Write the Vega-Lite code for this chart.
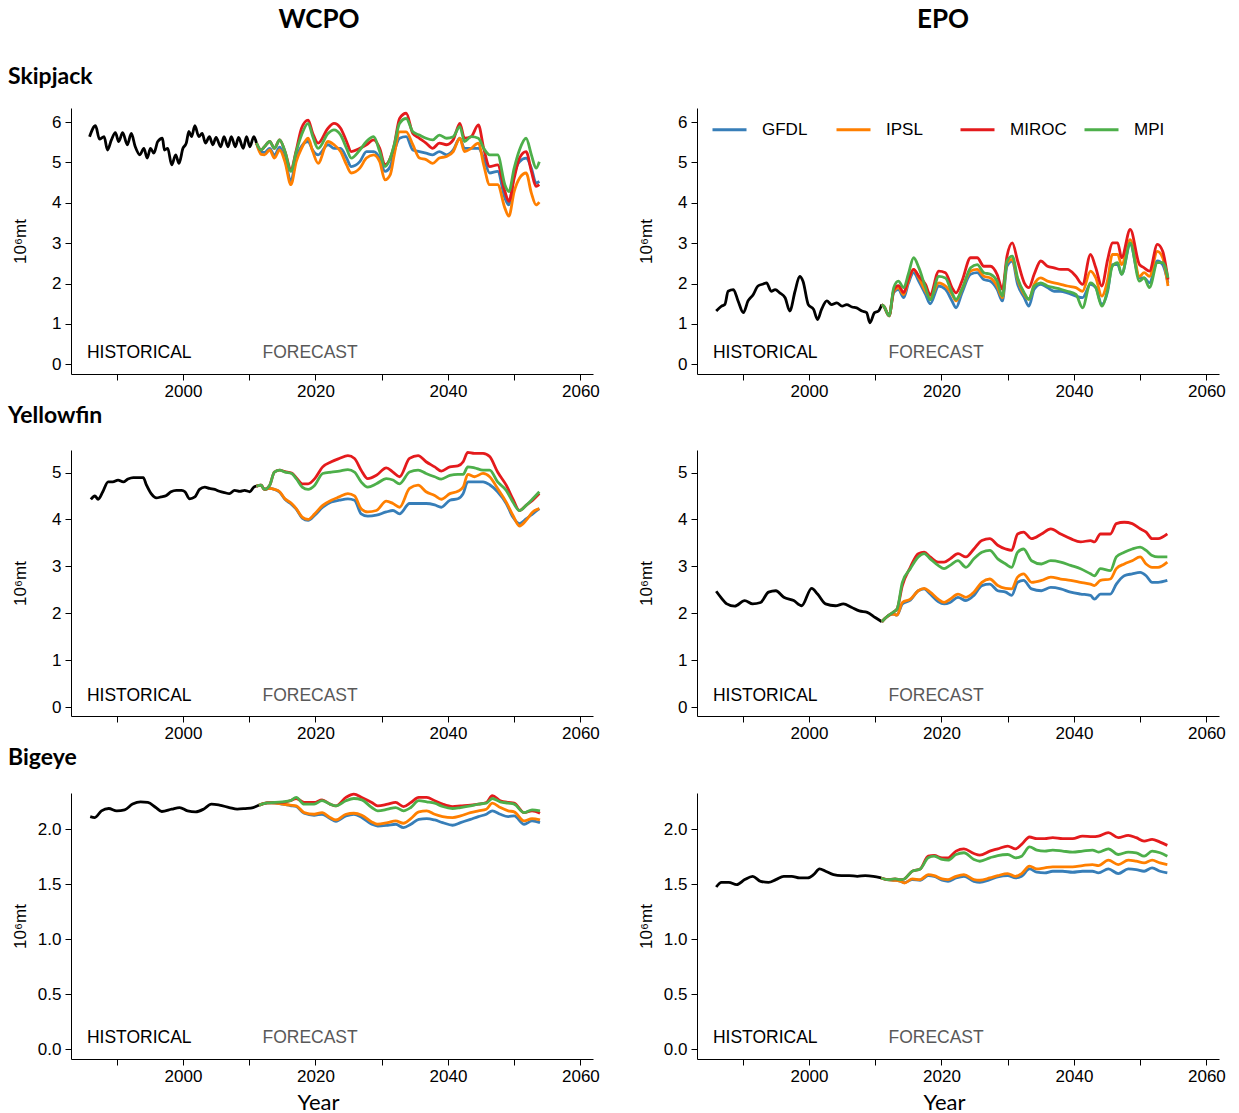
{
  "$schema": "https://vega.github.io/schema/vega-lite/v6.json",
  "background": "white",
  "padding": {"left": 8, "top": 0, "right": 5, "bottom": 2},
  "config": {
    "view": {"stroke": null},
    "font": "Liberation Sans",
    "axis": {"grid": false, "domainColor": "black", "domainWidth": 1, "tickColor": "black", "tickSize": 6, "labelColor": "black", "labelFont": "Liberation Sans", "labelFontSize": 17, "labelPadding": 3, "titleFont": "Liberation Sans", "titleFontWeight": "normal", "titleFontSize": 17, "titleColor": "black"},
    "axisY": {"minExtent": 30, "maxExtent": 30, "titlePadding": 12, "labelPadding": 4},
    "axisX": {"labelFlush": false, "titleFont": "Lato", "titleFontSize": 22, "titlePadding": 8, "titleX": 247},
    "title": {"anchor": "start", "font": "Lato", "fontSize": 23, "fontWeight": "bold", "color": "black", "offset": 19, "dx": -3},
    "line": {"strokeWidth": 2.8, "interpolate": "monotone"},
    "text": {"font": "Liberation Sans", "fontSize": 17.5, "align": "left", "baseline": "middle"}
  },
  "datasets": {
    "wcpo_skj": [
      {"model":"Historical","year":1985.9,"mt":5.64},{"model":"Historical","year":1986.8,"mt":5.91},{"model":"Historical","year":1987.4,"mt":5.58},{"model":"Historical","year":1988.1,"mt":5.64},{"model":"Historical","year":1988.6,"mt":5.31},{"model":"Historical","year":1989.2,"mt":5.56},{"model":"Historical","year":1989.8,"mt":5.74},{"model":"Historical","year":1990.3,"mt":5.52},{"model":"Historical","year":1990.9,"mt":5.74},{"model":"Historical","year":1991.6,"mt":5.44},{"model":"Historical","year":1992.2,"mt":5.72},{"model":"Historical","year":1992.8,"mt":5.39},{"model":"Historical","year":1993.5,"mt":5.19},{"model":"Historical","year":1994.1,"mt":5.35},{"model":"Historical","year":1994.6,"mt":5.11},{"model":"Historical","year":1995.1,"mt":5.35},{"model":"Historical","year":1995.6,"mt":5.23},{"model":"Historical","year":1996.2,"mt":5.52},{"model":"Historical","year":1996.9,"mt":5.6},{"model":"Historical","year":1997.2,"mt":5.31},{"model":"Historical","year":1997.7,"mt":5.35},{"model":"Historical","year":1998.3,"mt":4.94},{"model":"Historical","year":1998.9,"mt":5.19},{"model":"Historical","year":1999.4,"mt":4.98},{"model":"Historical","year":2000.0,"mt":5.35},{"model":"Historical","year":2000.5,"mt":5.48},{"model":"Historical","year":2000.9,"mt":5.77},{"model":"Historical","year":2001.3,"mt":5.64},{"model":"Historical","year":2001.8,"mt":5.91},{"model":"Historical","year":2002.4,"mt":5.64},{"model":"Historical","year":2002.9,"mt":5.72},{"model":"Historical","year":2003.4,"mt":5.48},{"model":"Historical","year":2004.0,"mt":5.64},{"model":"Historical","year":2004.5,"mt":5.44},{"model":"Historical","year":2005.0,"mt":5.62},{"model":"Historical","year":2005.7,"mt":5.39},{"model":"Historical","year":2006.2,"mt":5.64},{"model":"Historical","year":2006.8,"mt":5.39},{"model":"Historical","year":2007.3,"mt":5.64},{"model":"Historical","year":2007.9,"mt":5.39},{"model":"Historical","year":2008.4,"mt":5.62},{"model":"Historical","year":2009.1,"mt":5.35},{"model":"Historical","year":2009.6,"mt":5.64},{"model":"Historical","year":2010.1,"mt":5.39},{"model":"Historical","year":2010.7,"mt":5.64},{"model":"Historical","year":2011.1,"mt":5.48},
      {"model":"GFDL","year":2011.1,"mt":5.48},{"model":"GFDL","year":2011.8,"mt":5.25},{"model":"GFDL","year":2012.3,"mt":5.25},{"model":"GFDL","year":2013.1,"mt":5.35},{"model":"GFDL","year":2013.8,"mt":5.18},{"model":"GFDL","year":2014.6,"mt":5.38},{"model":"GFDL","year":2015.4,"mt":5.08},{"model":"GFDL","year":2016.3,"mt":4.55},{"model":"GFDL","year":2017.1,"mt":5.1},{"model":"GFDL","year":2017.9,"mt":5.4},{"model":"GFDL","year":2018.9,"mt":5.52},{"model":"GFDL","year":2019.6,"mt":5.3},{"model":"GFDL","year":2020.4,"mt":5.19},{"model":"GFDL","year":2021.9,"mt":5.44},{"model":"GFDL","year":2022.8,"mt":5.35},{"model":"GFDL","year":2023.8,"mt":5.35},{"model":"GFDL","year":2024.7,"mt":5.11},{"model":"GFDL","year":2025.4,"mt":4.9},{"model":"GFDL","year":2026.7,"mt":5.02},{"model":"GFDL","year":2027.7,"mt":5.27},{"model":"GFDL","year":2028.8,"mt":5.27},{"model":"GFDL","year":2029.7,"mt":5.11},{"model":"GFDL","year":2030.5,"mt":4.78},{"model":"GFDL","year":2031.3,"mt":4.9},{"model":"GFDL","year":2031.9,"mt":5.27},{"model":"GFDL","year":2032.7,"mt":5.6},{"model":"GFDL","year":2033.7,"mt":5.64},{"model":"GFDL","year":2034.7,"mt":5.31},{"model":"GFDL","year":2035.7,"mt":5.27},{"model":"GFDL","year":2036.7,"mt":5.23},{"model":"GFDL","year":2037.7,"mt":5.19},{"model":"GFDL","year":2038.7,"mt":5.27},{"model":"GFDL","year":2039.8,"mt":5.19},{"model":"GFDL","year":2040.8,"mt":5.31},{"model":"GFDL","year":2041.8,"mt":5.6},{"model":"GFDL","year":2042.5,"mt":5.35},{"model":"GFDL","year":2043.5,"mt":5.35},{"model":"GFDL","year":2044.6,"mt":5.35},{"model":"GFDL","year":2045.4,"mt":5.11},{"model":"GFDL","year":2046.3,"mt":4.74},{"model":"GFDL","year":2047.5,"mt":4.78},{"model":"GFDL","year":2048.6,"mt":4.12},{"model":"GFDL","year":2049.2,"mt":3.95},{"model":"GFDL","year":2050.0,"mt":4.7},{"model":"GFDL","year":2050.8,"mt":5.02},{"model":"GFDL","year":2051.8,"mt":5.11},{"model":"GFDL","year":2052.6,"mt":4.86},{"model":"GFDL","year":2053.3,"mt":4.49},{"model":"GFDL","year":2053.8,"mt":4.53},
      {"model":"IPSL","year":2011.1,"mt":5.48},{"model":"IPSL","year":2011.8,"mt":5.2},{"model":"IPSL","year":2012.3,"mt":5.19},{"model":"IPSL","year":2013.1,"mt":5.31},{"model":"IPSL","year":2013.8,"mt":5.11},{"model":"IPSL","year":2014.6,"mt":5.31},{"model":"IPSL","year":2015.4,"mt":5.02},{"model":"IPSL","year":2016.3,"mt":4.45},{"model":"IPSL","year":2017.1,"mt":5.02},{"model":"IPSL","year":2017.9,"mt":5.35},{"model":"IPSL","year":2018.9,"mt":5.6},{"model":"IPSL","year":2019.6,"mt":5.27},{"model":"IPSL","year":2020.4,"mt":4.98},{"model":"IPSL","year":2021.9,"mt":5.52},{"model":"IPSL","year":2022.8,"mt":5.44},{"model":"IPSL","year":2023.8,"mt":5.27},{"model":"IPSL","year":2024.7,"mt":4.94},{"model":"IPSL","year":2025.4,"mt":4.74},{"model":"IPSL","year":2026.7,"mt":4.86},{"model":"IPSL","year":2027.7,"mt":5.11},{"model":"IPSL","year":2028.8,"mt":5.19},{"model":"IPSL","year":2029.7,"mt":5.02},{"model":"IPSL","year":2030.5,"mt":4.57},{"model":"IPSL","year":2031.3,"mt":4.7},{"model":"IPSL","year":2031.9,"mt":5.19},{"model":"IPSL","year":2032.7,"mt":5.76},{"model":"IPSL","year":2033.7,"mt":5.76},{"model":"IPSL","year":2034.7,"mt":5.44},{"model":"IPSL","year":2035.7,"mt":5.11},{"model":"IPSL","year":2036.7,"mt":5.07},{"model":"IPSL","year":2037.7,"mt":4.98},{"model":"IPSL","year":2038.7,"mt":5.11},{"model":"IPSL","year":2039.8,"mt":5.15},{"model":"IPSL","year":2040.8,"mt":5.27},{"model":"IPSL","year":2041.8,"mt":5.6},{"model":"IPSL","year":2042.5,"mt":5.27},{"model":"IPSL","year":2043.5,"mt":5.35},{"model":"IPSL","year":2044.6,"mt":5.48},{"model":"IPSL","year":2045.4,"mt":4.94},{"model":"IPSL","year":2046.3,"mt":4.45},{"model":"IPSL","year":2047.5,"mt":4.45},{"model":"IPSL","year":2048.6,"mt":3.87},{"model":"IPSL","year":2049.2,"mt":3.67},{"model":"IPSL","year":2050.0,"mt":4.28},{"model":"IPSL","year":2050.8,"mt":4.61},{"model":"IPSL","year":2051.8,"mt":4.74},{"model":"IPSL","year":2052.6,"mt":4.24},{"model":"IPSL","year":2053.3,"mt":3.95},{"model":"IPSL","year":2053.8,"mt":4.02},
      {"model":"MIROC","year":2011.1,"mt":5.48},{"model":"MIROC","year":2011.8,"mt":5.31},{"model":"MIROC","year":2012.3,"mt":5.39},{"model":"MIROC","year":2013.1,"mt":5.52},{"model":"MIROC","year":2013.8,"mt":5.35},{"model":"MIROC","year":2014.6,"mt":5.56},{"model":"MIROC","year":2015.4,"mt":5.27},{"model":"MIROC","year":2016.3,"mt":4.83},{"model":"MIROC","year":2017.1,"mt":5.3},{"model":"MIROC","year":2017.9,"mt":5.85},{"model":"MIROC","year":2018.9,"mt":6.05},{"model":"MIROC","year":2019.6,"mt":5.72},{"model":"MIROC","year":2020.4,"mt":5.48},{"model":"MIROC","year":2021.9,"mt":5.85},{"model":"MIROC","year":2022.8,"mt":5.97},{"model":"MIROC","year":2023.8,"mt":5.85},{"model":"MIROC","year":2024.7,"mt":5.52},{"model":"MIROC","year":2025.4,"mt":5.27},{"model":"MIROC","year":2026.7,"mt":5.35},{"model":"MIROC","year":2027.7,"mt":5.44},{"model":"MIROC","year":2028.8,"mt":5.56},{"model":"MIROC","year":2029.7,"mt":5.35},{"model":"MIROC","year":2030.5,"mt":4.94},{"model":"MIROC","year":2031.3,"mt":5.11},{"model":"MIROC","year":2031.9,"mt":5.44},{"model":"MIROC","year":2032.7,"mt":6.09},{"model":"MIROC","year":2033.7,"mt":6.22},{"model":"MIROC","year":2034.7,"mt":5.72},{"model":"MIROC","year":2035.7,"mt":5.6},{"model":"MIROC","year":2036.7,"mt":5.48},{"model":"MIROC","year":2037.7,"mt":5.35},{"model":"MIROC","year":2038.7,"mt":5.48},{"model":"MIROC","year":2039.8,"mt":5.44},{"model":"MIROC","year":2040.8,"mt":5.56},{"model":"MIROC","year":2041.8,"mt":5.97},{"model":"MIROC","year":2042.5,"mt":5.6},{"model":"MIROC","year":2043.5,"mt":5.64},{"model":"MIROC","year":2044.6,"mt":5.93},{"model":"MIROC","year":2045.4,"mt":5.35},{"model":"MIROC","year":2046.3,"mt":4.9},{"model":"MIROC","year":2047.5,"mt":4.94},{"model":"MIROC","year":2048.6,"mt":4.28},{"model":"MIROC","year":2049.2,"mt":4.04},{"model":"MIROC","year":2050.0,"mt":4.61},{"model":"MIROC","year":2050.8,"mt":5.11},{"model":"MIROC","year":2051.8,"mt":5.27},{"model":"MIROC","year":2052.6,"mt":4.78},{"model":"MIROC","year":2053.3,"mt":4.41},{"model":"MIROC","year":2053.8,"mt":4.45},
      {"model":"MPI","year":2011.1,"mt":5.48},{"model":"MPI","year":2011.8,"mt":5.31},{"model":"MPI","year":2012.3,"mt":5.39},{"model":"MPI","year":2013.1,"mt":5.52},{"model":"MPI","year":2013.8,"mt":5.35},{"model":"MPI","year":2014.6,"mt":5.56},{"model":"MPI","year":2015.4,"mt":5.27},{"model":"MPI","year":2016.3,"mt":4.78},{"model":"MPI","year":2017.1,"mt":5.27},{"model":"MPI","year":2017.9,"mt":5.68},{"model":"MPI","year":2018.9,"mt":5.97},{"model":"MPI","year":2019.6,"mt":5.64},{"model":"MPI","year":2020.4,"mt":5.35},{"model":"MPI","year":2021.9,"mt":5.72},{"model":"MPI","year":2022.8,"mt":5.81},{"model":"MPI","year":2023.8,"mt":5.68},{"model":"MPI","year":2024.7,"mt":5.35},{"model":"MPI","year":2025.4,"mt":5.11},{"model":"MPI","year":2026.7,"mt":5.31},{"model":"MPI","year":2027.7,"mt":5.52},{"model":"MPI","year":2028.8,"mt":5.64},{"model":"MPI","year":2029.7,"mt":5.27},{"model":"MPI","year":2030.5,"mt":4.9},{"model":"MPI","year":2031.3,"mt":5.11},{"model":"MPI","year":2031.9,"mt":5.44},{"model":"MPI","year":2032.7,"mt":5.97},{"model":"MPI","year":2033.7,"mt":6.09},{"model":"MPI","year":2034.7,"mt":5.76},{"model":"MPI","year":2035.7,"mt":5.68},{"model":"MPI","year":2036.7,"mt":5.6},{"model":"MPI","year":2037.7,"mt":5.56},{"model":"MPI","year":2038.7,"mt":5.68},{"model":"MPI","year":2039.8,"mt":5.6},{"model":"MPI","year":2040.8,"mt":5.64},{"model":"MPI","year":2041.8,"mt":5.89},{"model":"MPI","year":2042.5,"mt":5.52},{"model":"MPI","year":2043.5,"mt":5.64},{"model":"MPI","year":2044.6,"mt":5.6},{"model":"MPI","year":2045.4,"mt":5.35},{"model":"MPI","year":2046.3,"mt":5.19},{"model":"MPI","year":2047.5,"mt":5.19},{"model":"MPI","year":2048.6,"mt":4.45},{"model":"MPI","year":2049.2,"mt":4.28},{"model":"MPI","year":2050.0,"mt":4.86},{"model":"MPI","year":2050.8,"mt":5.31},{"model":"MPI","year":2051.8,"mt":5.6},{"model":"MPI","year":2052.6,"mt":5.19},{"model":"MPI","year":2053.3,"mt":4.86},{"model":"MPI","year":2053.8,"mt":5.02}
    ],
    "epo_skj": [
      {"model":"Historical","year":1986.0,"mt":1.32},{"model":"Historical","year":1986.8,"mt":1.44},{"model":"Historical","year":1987.3,"mt":1.48},{"model":"Historical","year":1987.8,"mt":1.81},{"model":"Historical","year":1988.6,"mt":1.85},{"model":"Historical","year":1989.3,"mt":1.57},{"model":"Historical","year":1990.1,"mt":1.28},{"model":"Historical","year":1990.8,"mt":1.57},{"model":"Historical","year":1991.6,"mt":1.73},{"model":"Historical","year":1992.3,"mt":1.94},{"model":"Historical","year":1993.1,"mt":1.99},{"model":"Historical","year":1993.6,"mt":2.02},{"model":"Historical","year":1994.3,"mt":1.81},{"model":"Historical","year":1994.9,"mt":1.85},{"model":"Historical","year":1995.6,"mt":1.77},{"model":"Historical","year":1996.4,"mt":1.65},{"model":"Historical","year":1997.1,"mt":1.32},{"model":"Historical","year":1997.9,"mt":1.81},{"model":"Historical","year":1998.6,"mt":2.18},{"model":"Historical","year":1999.1,"mt":2.06},{"model":"Historical","year":1999.9,"mt":1.48},{"model":"Historical","year":2000.7,"mt":1.36},{"model":"Historical","year":2001.3,"mt":1.11},{"model":"Historical","year":2001.9,"mt":1.36},{"model":"Historical","year":2002.7,"mt":1.57},{"model":"Historical","year":2003.4,"mt":1.48},{"model":"Historical","year":2004.2,"mt":1.52},{"model":"Historical","year":2005.0,"mt":1.44},{"model":"Historical","year":2005.7,"mt":1.48},{"model":"Historical","year":2006.5,"mt":1.42},{"model":"Historical","year":2007.2,"mt":1.4},{"model":"Historical","year":2008.0,"mt":1.32},{"model":"Historical","year":2008.7,"mt":1.28},{"model":"Historical","year":2009.2,"mt":1.03},{"model":"Historical","year":2009.9,"mt":1.28},{"model":"Historical","year":2010.5,"mt":1.32},{"model":"Historical","year":2011.0,"mt":1.48},
      {"model":"GFDL","year":2011.0,"mt":1.48},{"model":"GFDL","year":2011.3,"mt":1.44},{"model":"GFDL","year":2012.1,"mt":1.2},{"model":"GFDL","year":2012.8,"mt":1.78},{"model":"GFDL","year":2013.5,"mt":1.86},{"model":"GFDL","year":2014.3,"mt":1.65},{"model":"GFDL","year":2015.0,"mt":2.0},{"model":"GFDL","year":2015.8,"mt":2.27},{"model":"GFDL","year":2016.6,"mt":2.05},{"model":"GFDL","year":2017.6,"mt":1.73},{"model":"GFDL","year":2018.3,"mt":1.5},{"model":"GFDL","year":2019.6,"mt":1.94},{"model":"GFDL","year":2020.6,"mt":1.86},{"model":"GFDL","year":2021.6,"mt":1.57},{"model":"GFDL","year":2022.2,"mt":1.4},{"model":"GFDL","year":2023.1,"mt":1.77},{"model":"GFDL","year":2024.4,"mt":2.23},{"model":"GFDL","year":2025.4,"mt":2.27},{"model":"GFDL","year":2026.4,"mt":2.1},{"model":"GFDL","year":2027.4,"mt":2.06},{"model":"GFDL","year":2028.4,"mt":1.86},{"model":"GFDL","year":2029.2,"mt":1.57},{"model":"GFDL","year":2029.9,"mt":2.43},{"model":"GFDL","year":2030.7,"mt":2.56},{"model":"GFDL","year":2031.5,"mt":1.98},{"model":"GFDL","year":2032.5,"mt":1.65},{"model":"GFDL","year":2033.2,"mt":1.44},{"model":"GFDL","year":2034.0,"mt":1.86},{"model":"GFDL","year":2035.0,"mt":1.98},{"model":"GFDL","year":2036.0,"mt":1.9},{"model":"GFDL","year":2037.0,"mt":1.81},{"model":"GFDL","year":2038.0,"mt":1.81},{"model":"GFDL","year":2039.0,"mt":1.77},{"model":"GFDL","year":2040.3,"mt":1.69},{"model":"GFDL","year":2041.3,"mt":1.65},{"model":"GFDL","year":2042.5,"mt":1.98},{"model":"GFDL","year":2043.3,"mt":1.9},{"model":"GFDL","year":2044.2,"mt":1.48},{"model":"GFDL","year":2045.1,"mt":1.81},{"model":"GFDL","year":2045.8,"mt":2.47},{"model":"GFDL","year":2046.6,"mt":2.47},{"model":"GFDL","year":2047.2,"mt":2.23},{"model":"GFDL","year":2048.5,"mt":2.97},{"model":"GFDL","year":2049.9,"mt":2.14},{"model":"GFDL","year":2050.6,"mt":2.14},{"model":"GFDL","year":2051.4,"mt":2.02},{"model":"GFDL","year":2052.6,"mt":2.56},{"model":"GFDL","year":2053.4,"mt":2.47},{"model":"GFDL","year":2054.2,"mt":2.02},
      {"model":"IPSL","year":2011.0,"mt":1.48},{"model":"IPSL","year":2011.3,"mt":1.44},{"model":"IPSL","year":2012.1,"mt":1.2},{"model":"IPSL","year":2012.8,"mt":1.81},{"model":"IPSL","year":2013.5,"mt":1.9},{"model":"IPSL","year":2014.3,"mt":1.73},{"model":"IPSL","year":2015.0,"mt":2.06},{"model":"IPSL","year":2015.8,"mt":2.35},{"model":"IPSL","year":2016.6,"mt":2.14},{"model":"IPSL","year":2017.6,"mt":1.81},{"model":"IPSL","year":2018.3,"mt":1.65},{"model":"IPSL","year":2019.6,"mt":2.02},{"model":"IPSL","year":2020.6,"mt":1.94},{"model":"IPSL","year":2021.6,"mt":1.73},{"model":"IPSL","year":2022.2,"mt":1.57},{"model":"IPSL","year":2023.1,"mt":1.86},{"model":"IPSL","year":2024.4,"mt":2.31},{"model":"IPSL","year":2025.4,"mt":2.35},{"model":"IPSL","year":2026.4,"mt":2.18},{"model":"IPSL","year":2027.4,"mt":2.14},{"model":"IPSL","year":2028.4,"mt":1.94},{"model":"IPSL","year":2029.2,"mt":1.65},{"model":"IPSL","year":2029.9,"mt":2.52},{"model":"IPSL","year":2030.7,"mt":2.6},{"model":"IPSL","year":2031.5,"mt":2.1},{"model":"IPSL","year":2032.5,"mt":1.73},{"model":"IPSL","year":2033.2,"mt":1.61},{"model":"IPSL","year":2034.0,"mt":1.98},{"model":"IPSL","year":2035.0,"mt":2.14},{"model":"IPSL","year":2036.0,"mt":2.06},{"model":"IPSL","year":2037.0,"mt":2.02},{"model":"IPSL","year":2038.0,"mt":1.98},{"model":"IPSL","year":2039.0,"mt":1.94},{"model":"IPSL","year":2040.3,"mt":1.9},{"model":"IPSL","year":2041.3,"mt":1.81},{"model":"IPSL","year":2042.5,"mt":2.31},{"model":"IPSL","year":2043.3,"mt":2.14},{"model":"IPSL","year":2044.2,"mt":1.69},{"model":"IPSL","year":2045.1,"mt":2.1},{"model":"IPSL","year":2045.8,"mt":2.72},{"model":"IPSL","year":2046.6,"mt":2.72},{"model":"IPSL","year":2047.2,"mt":2.47},{"model":"IPSL","year":2048.5,"mt":3.09},{"model":"IPSL","year":2049.9,"mt":2.18},{"model":"IPSL","year":2050.6,"mt":2.27},{"model":"IPSL","year":2051.4,"mt":2.18},{"model":"IPSL","year":2052.6,"mt":2.8},{"model":"IPSL","year":2053.4,"mt":2.64},{"model":"IPSL","year":2054.2,"mt":1.94},
      {"model":"MIROC","year":2011.0,"mt":1.48},{"model":"MIROC","year":2011.3,"mt":1.44},{"model":"MIROC","year":2012.1,"mt":1.2},{"model":"MIROC","year":2012.8,"mt":1.84},{"model":"MIROC","year":2013.5,"mt":1.95},{"model":"MIROC","year":2014.3,"mt":1.78},{"model":"MIROC","year":2015.0,"mt":2.1},{"model":"MIROC","year":2015.8,"mt":2.35},{"model":"MIROC","year":2016.6,"mt":2.18},{"model":"MIROC","year":2017.6,"mt":1.98},{"model":"MIROC","year":2018.3,"mt":1.72},{"model":"MIROC","year":2019.6,"mt":2.31},{"model":"MIROC","year":2020.6,"mt":2.27},{"model":"MIROC","year":2021.6,"mt":1.9},{"model":"MIROC","year":2022.2,"mt":1.77},{"model":"MIROC","year":2023.1,"mt":2.06},{"model":"MIROC","year":2024.4,"mt":2.64},{"model":"MIROC","year":2025.4,"mt":2.64},{"model":"MIROC","year":2026.4,"mt":2.43},{"model":"MIROC","year":2027.4,"mt":2.43},{"model":"MIROC","year":2028.4,"mt":2.23},{"model":"MIROC","year":2029.2,"mt":1.86},{"model":"MIROC","year":2029.9,"mt":2.68},{"model":"MIROC","year":2030.7,"mt":3.01},{"model":"MIROC","year":2031.5,"mt":2.56},{"model":"MIROC","year":2032.5,"mt":2.02},{"model":"MIROC","year":2033.2,"mt":1.9},{"model":"MIROC","year":2034.0,"mt":2.23},{"model":"MIROC","year":2035.0,"mt":2.56},{"model":"MIROC","year":2036.0,"mt":2.43},{"model":"MIROC","year":2037.0,"mt":2.39},{"model":"MIROC","year":2038.0,"mt":2.35},{"model":"MIROC","year":2039.0,"mt":2.35},{"model":"MIROC","year":2040.3,"mt":2.18},{"model":"MIROC","year":2041.3,"mt":1.98},{"model":"MIROC","year":2042.5,"mt":2.72},{"model":"MIROC","year":2043.3,"mt":2.39},{"model":"MIROC","year":2044.2,"mt":1.94},{"model":"MIROC","year":2045.1,"mt":2.6},{"model":"MIROC","year":2045.8,"mt":3.01},{"model":"MIROC","year":2046.6,"mt":3.01},{"model":"MIROC","year":2047.2,"mt":2.64},{"model":"MIROC","year":2048.5,"mt":3.34},{"model":"MIROC","year":2049.9,"mt":2.47},{"model":"MIROC","year":2050.6,"mt":2.39},{"model":"MIROC","year":2051.4,"mt":2.31},{"model":"MIROC","year":2052.6,"mt":2.97},{"model":"MIROC","year":2053.4,"mt":2.8},{"model":"MIROC","year":2054.2,"mt":2.1},
      {"model":"MPI","year":2011.0,"mt":1.48},{"model":"MPI","year":2011.3,"mt":1.44},{"model":"MPI","year":2012.1,"mt":1.2},{"model":"MPI","year":2012.8,"mt":1.9},{"model":"MPI","year":2013.5,"mt":2.06},{"model":"MPI","year":2014.3,"mt":1.9},{"model":"MPI","year":2015.0,"mt":2.23},{"model":"MPI","year":2015.8,"mt":2.64},{"model":"MPI","year":2016.6,"mt":2.39},{"model":"MPI","year":2017.6,"mt":1.9},{"model":"MPI","year":2018.3,"mt":1.6},{"model":"MPI","year":2019.6,"mt":2.18},{"model":"MPI","year":2020.6,"mt":2.14},{"model":"MPI","year":2021.6,"mt":1.77},{"model":"MPI","year":2022.2,"mt":1.61},{"model":"MPI","year":2023.1,"mt":1.86},{"model":"MPI","year":2024.4,"mt":2.39},{"model":"MPI","year":2025.4,"mt":2.47},{"model":"MPI","year":2026.4,"mt":2.27},{"model":"MPI","year":2027.4,"mt":2.23},{"model":"MPI","year":2028.4,"mt":2.06},{"model":"MPI","year":2029.2,"mt":1.69},{"model":"MPI","year":2029.9,"mt":2.56},{"model":"MPI","year":2030.7,"mt":2.68},{"model":"MPI","year":2031.5,"mt":2.14},{"model":"MPI","year":2032.5,"mt":1.77},{"model":"MPI","year":2033.2,"mt":1.61},{"model":"MPI","year":2034.0,"mt":1.94},{"model":"MPI","year":2035.0,"mt":2.02},{"model":"MPI","year":2036.0,"mt":1.94},{"model":"MPI","year":2037.0,"mt":1.9},{"model":"MPI","year":2038.0,"mt":1.86},{"model":"MPI","year":2039.0,"mt":1.81},{"model":"MPI","year":2040.3,"mt":1.73},{"model":"MPI","year":2041.3,"mt":1.4},{"model":"MPI","year":2042.5,"mt":2.02},{"model":"MPI","year":2043.3,"mt":1.9},{"model":"MPI","year":2044.2,"mt":1.44},{"model":"MPI","year":2045.1,"mt":1.86},{"model":"MPI","year":2045.8,"mt":2.43},{"model":"MPI","year":2046.6,"mt":2.52},{"model":"MPI","year":2047.2,"mt":2.23},{"model":"MPI","year":2048.5,"mt":3.01},{"model":"MPI","year":2049.9,"mt":2.06},{"model":"MPI","year":2050.6,"mt":2.14},{"model":"MPI","year":2051.4,"mt":1.9},{"model":"MPI","year":2052.6,"mt":2.52},{"model":"MPI","year":2053.4,"mt":2.52},{"model":"MPI","year":2054.2,"mt":2.14}
    ],
    "wcpo_yft": [
      {"model":"Historical","year":1986.1,"mt":4.43},{"model":"Historical","year":1986.7,"mt":4.5},{"model":"Historical","year":1987.2,"mt":4.43},{"model":"Historical","year":1987.9,"mt":4.59},{"model":"Historical","year":1988.7,"mt":4.8},{"model":"Historical","year":1989.4,"mt":4.8},{"model":"Historical","year":1990.2,"mt":4.84},{"model":"Historical","year":1991.0,"mt":4.8},{"model":"Historical","year":1991.7,"mt":4.86},{"model":"Historical","year":1992.5,"mt":4.89},{"model":"Historical","year":1993.2,"mt":4.89},{"model":"Historical","year":1994.0,"mt":4.89},{"model":"Historical","year":1994.5,"mt":4.73},{"model":"Historical","year":1995.2,"mt":4.55},{"model":"Historical","year":1996.0,"mt":4.46},{"model":"Historical","year":1996.7,"mt":4.48},{"model":"Historical","year":1997.5,"mt":4.51},{"model":"Historical","year":1998.2,"mt":4.59},{"model":"Historical","year":1999.0,"mt":4.62},{"model":"Historical","year":1999.8,"mt":4.62},{"model":"Historical","year":2000.3,"mt":4.59},{"model":"Historical","year":2001.0,"mt":4.44},{"model":"Historical","year":2001.8,"mt":4.48},{"model":"Historical","year":2002.5,"mt":4.64},{"model":"Historical","year":2003.3,"mt":4.69},{"model":"Historical","year":2004.0,"mt":4.66},{"model":"Historical","year":2004.8,"mt":4.64},{"model":"Historical","year":2005.5,"mt":4.6},{"model":"Historical","year":2006.3,"mt":4.57},{"model":"Historical","year":2007.0,"mt":4.55},{"model":"Historical","year":2007.8,"mt":4.62},{"model":"Historical","year":2008.6,"mt":4.6},{"model":"Historical","year":2009.3,"mt":4.62},{"model":"Historical","year":2010.1,"mt":4.59},{"model":"Historical","year":2010.7,"mt":4.69},{"model":"Historical","year":2011.1,"mt":4.71},
      {"model":"GFDL","year":2011.1,"mt":4.71},{"model":"GFDL","year":2011.8,"mt":4.73},{"model":"GFDL","year":2012.3,"mt":4.64},{"model":"GFDL","year":2013.1,"mt":4.66},{"model":"GFDL","year":2013.8,"mt":4.64},{"model":"GFDL","year":2014.6,"mt":4.58},{"model":"GFDL","year":2015.4,"mt":4.43},{"model":"GFDL","year":2016.4,"mt":4.32},{"model":"GFDL","year":2017.1,"mt":4.22},{"model":"GFDL","year":2018.0,"mt":4.03},{"model":"GFDL","year":2018.9,"mt":3.98},{"model":"GFDL","year":2019.9,"mt":4.09},{"model":"GFDL","year":2021.1,"mt":4.26},{"model":"GFDL","year":2022.4,"mt":4.37},{"model":"GFDL","year":2023.6,"mt":4.41},{"model":"GFDL","year":2024.9,"mt":4.44},{"model":"GFDL","year":2025.9,"mt":4.41},{"model":"GFDL","year":2026.9,"mt":4.12},{"model":"GFDL","year":2027.9,"mt":4.07},{"model":"GFDL","year":2029.2,"mt":4.09},{"model":"GFDL","year":2030.7,"mt":4.16},{"model":"GFDL","year":2031.7,"mt":4.19},{"model":"GFDL","year":2032.7,"mt":4.12},{"model":"GFDL","year":2034.2,"mt":4.34},{"model":"GFDL","year":2035.5,"mt":4.34},{"model":"GFDL","year":2036.7,"mt":4.34},{"model":"GFDL","year":2038.0,"mt":4.31},{"model":"GFDL","year":2039.0,"mt":4.26},{"model":"GFDL","year":2040.3,"mt":4.41},{"model":"GFDL","year":2041.5,"mt":4.44},{"model":"GFDL","year":2042.3,"mt":4.55},{"model":"GFDL","year":2043.0,"mt":4.8},{"model":"GFDL","year":2044.0,"mt":4.8},{"model":"GFDL","year":2045.3,"mt":4.8},{"model":"GFDL","year":2046.3,"mt":4.74},{"model":"GFDL","year":2047.5,"mt":4.59},{"model":"GFDL","year":2048.8,"mt":4.34},{"model":"GFDL","year":2049.8,"mt":4.05},{"model":"GFDL","year":2050.8,"mt":3.91},{"model":"GFDL","year":2051.8,"mt":4.01},{"model":"GFDL","year":2052.8,"mt":4.12},{"model":"GFDL","year":2053.8,"mt":4.23},
      {"model":"IPSL","year":2011.1,"mt":4.71},{"model":"IPSL","year":2011.8,"mt":4.73},{"model":"IPSL","year":2012.3,"mt":4.64},{"model":"IPSL","year":2013.1,"mt":4.66},{"model":"IPSL","year":2013.8,"mt":4.64},{"model":"IPSL","year":2014.6,"mt":4.59},{"model":"IPSL","year":2015.4,"mt":4.44},{"model":"IPSL","year":2016.4,"mt":4.34},{"model":"IPSL","year":2017.1,"mt":4.23},{"model":"IPSL","year":2018.0,"mt":4.05},{"model":"IPSL","year":2018.9,"mt":4.0},{"model":"IPSL","year":2019.9,"mt":4.12},{"model":"IPSL","year":2021.1,"mt":4.3},{"model":"IPSL","year":2022.4,"mt":4.41},{"model":"IPSL","year":2023.6,"mt":4.48},{"model":"IPSL","year":2024.9,"mt":4.55},{"model":"IPSL","year":2025.9,"mt":4.5},{"model":"IPSL","year":2026.9,"mt":4.23},{"model":"IPSL","year":2027.9,"mt":4.16},{"model":"IPSL","year":2029.2,"mt":4.19},{"model":"IPSL","year":2030.7,"mt":4.39},{"model":"IPSL","year":2031.7,"mt":4.34},{"model":"IPSL","year":2032.7,"mt":4.26},{"model":"IPSL","year":2034.2,"mt":4.66},{"model":"IPSL","year":2035.5,"mt":4.73},{"model":"IPSL","year":2036.7,"mt":4.59},{"model":"IPSL","year":2038.0,"mt":4.51},{"model":"IPSL","year":2039.0,"mt":4.43},{"model":"IPSL","year":2040.3,"mt":4.55},{"model":"IPSL","year":2041.5,"mt":4.6},{"model":"IPSL","year":2042.3,"mt":4.69},{"model":"IPSL","year":2043.0,"mt":4.96},{"model":"IPSL","year":2044.0,"mt":4.91},{"model":"IPSL","year":2045.3,"mt":4.98},{"model":"IPSL","year":2046.3,"mt":4.91},{"model":"IPSL","year":2047.5,"mt":4.66},{"model":"IPSL","year":2048.8,"mt":4.37},{"model":"IPSL","year":2049.8,"mt":4.09},{"model":"IPSL","year":2050.8,"mt":3.86},{"model":"IPSL","year":2051.8,"mt":3.98},{"model":"IPSL","year":2052.8,"mt":4.16},{"model":"IPSL","year":2053.8,"mt":4.23},
      {"model":"MIROC","year":2011.1,"mt":4.71},{"model":"MIROC","year":2011.8,"mt":4.73},{"model":"MIROC","year":2012.3,"mt":4.64},{"model":"MIROC","year":2013.1,"mt":4.73},{"model":"MIROC","year":2013.8,"mt":5.01},{"model":"MIROC","year":2014.6,"mt":5.05},{"model":"MIROC","year":2015.4,"mt":5.02},{"model":"MIROC","year":2016.4,"mt":4.99},{"model":"MIROC","year":2017.1,"mt":4.89},{"model":"MIROC","year":2018.0,"mt":4.76},{"model":"MIROC","year":2018.9,"mt":4.76},{"model":"MIROC","year":2019.9,"mt":4.87},{"model":"MIROC","year":2021.1,"mt":5.12},{"model":"MIROC","year":2022.4,"mt":5.23},{"model":"MIROC","year":2023.6,"mt":5.3},{"model":"MIROC","year":2024.9,"mt":5.36},{"model":"MIROC","year":2025.9,"mt":5.3},{"model":"MIROC","year":2026.9,"mt":5.05},{"model":"MIROC","year":2027.9,"mt":4.87},{"model":"MIROC","year":2029.2,"mt":4.94},{"model":"MIROC","year":2030.7,"mt":5.1},{"model":"MIROC","year":2031.7,"mt":5.01},{"model":"MIROC","year":2032.7,"mt":4.91},{"model":"MIROC","year":2034.2,"mt":5.3},{"model":"MIROC","year":2035.5,"mt":5.36},{"model":"MIROC","year":2036.7,"mt":5.23},{"model":"MIROC","year":2038.0,"mt":5.12},{"model":"MIROC","year":2039.0,"mt":5.03},{"model":"MIROC","year":2040.3,"mt":5.12},{"model":"MIROC","year":2041.5,"mt":5.14},{"model":"MIROC","year":2042.3,"mt":5.23},{"model":"MIROC","year":2043.0,"mt":5.43},{"model":"MIROC","year":2044.0,"mt":5.41},{"model":"MIROC","year":2045.3,"mt":5.41},{"model":"MIROC","year":2046.3,"mt":5.34},{"model":"MIROC","year":2047.5,"mt":5.01},{"model":"MIROC","year":2048.8,"mt":4.73},{"model":"MIROC","year":2049.8,"mt":4.44},{"model":"MIROC","year":2050.8,"mt":4.19},{"model":"MIROC","year":2051.8,"mt":4.3},{"model":"MIROC","year":2052.8,"mt":4.41},{"model":"MIROC","year":2053.8,"mt":4.55},
      {"model":"MPI","year":2011.1,"mt":4.71},{"model":"MPI","year":2011.8,"mt":4.73},{"model":"MPI","year":2012.3,"mt":4.64},{"model":"MPI","year":2013.1,"mt":4.73},{"model":"MPI","year":2013.8,"mt":5.01},{"model":"MPI","year":2014.6,"mt":5.05},{"model":"MPI","year":2015.4,"mt":5.01},{"model":"MPI","year":2016.4,"mt":4.98},{"model":"MPI","year":2017.1,"mt":4.87},{"model":"MPI","year":2018.0,"mt":4.69},{"model":"MPI","year":2018.9,"mt":4.64},{"model":"MPI","year":2019.9,"mt":4.73},{"model":"MPI","year":2021.1,"mt":4.98},{"model":"MPI","year":2022.4,"mt":5.01},{"model":"MPI","year":2023.6,"mt":5.03},{"model":"MPI","year":2024.9,"mt":5.06},{"model":"MPI","year":2025.9,"mt":5.01},{"model":"MPI","year":2026.9,"mt":4.8},{"model":"MPI","year":2027.9,"mt":4.69},{"model":"MPI","year":2029.2,"mt":4.76},{"model":"MPI","year":2030.7,"mt":4.87},{"model":"MPI","year":2031.7,"mt":4.84},{"model":"MPI","year":2032.7,"mt":4.76},{"model":"MPI","year":2034.2,"mt":5.01},{"model":"MPI","year":2035.5,"mt":5.05},{"model":"MPI","year":2036.7,"mt":4.98},{"model":"MPI","year":2038.0,"mt":4.91},{"model":"MPI","year":2039.0,"mt":4.86},{"model":"MPI","year":2040.3,"mt":4.94},{"model":"MPI","year":2041.5,"mt":4.96},{"model":"MPI","year":2042.3,"mt":4.96},{"model":"MPI","year":2043.0,"mt":5.12},{"model":"MPI","year":2044.0,"mt":5.1},{"model":"MPI","year":2045.3,"mt":5.05},{"model":"MPI","year":2046.3,"mt":5.05},{"model":"MPI","year":2047.5,"mt":4.8},{"model":"MPI","year":2048.8,"mt":4.62},{"model":"MPI","year":2049.8,"mt":4.37},{"model":"MPI","year":2050.8,"mt":4.19},{"model":"MPI","year":2051.8,"mt":4.3},{"model":"MPI","year":2052.8,"mt":4.44},{"model":"MPI","year":2053.8,"mt":4.59}
    ],
    "epo_yft": [
      {"model":"Historical","year":1986.0,"mt":2.47},{"model":"Historical","year":1986.7,"mt":2.34},{"model":"Historical","year":1987.6,"mt":2.2},{"model":"Historical","year":1988.8,"mt":2.15},{"model":"Historical","year":1990.3,"mt":2.27},{"model":"Historical","year":1991.5,"mt":2.2},{"model":"Historical","year":1992.7,"mt":2.23},{"model":"Historical","year":1993.9,"mt":2.45},{"model":"Historical","year":1995.0,"mt":2.48},{"model":"Historical","year":1996.2,"mt":2.34},{"model":"Historical","year":1997.7,"mt":2.27},{"model":"Historical","year":1998.9,"mt":2.16},{"model":"Historical","year":2000.4,"mt":2.53},{"model":"Historical","year":2001.3,"mt":2.41},{"model":"Historical","year":2002.5,"mt":2.2},{"model":"Historical","year":2004.0,"mt":2.16},{"model":"Historical","year":2005.2,"mt":2.2},{"model":"Historical","year":2006.4,"mt":2.13},{"model":"Historical","year":2007.6,"mt":2.05},{"model":"Historical","year":2008.8,"mt":2.02},{"model":"Historical","year":2010.0,"mt":1.91},{"model":"Historical","year":2011.0,"mt":1.82},
      {"model":"GFDL","year":2011.0,"mt":1.82},{"model":"GFDL","year":2011.8,"mt":1.93},{"model":"GFDL","year":2012.7,"mt":1.98},{"model":"GFDL","year":2013.3,"mt":1.96},{"model":"GFDL","year":2014.1,"mt":2.2},{"model":"GFDL","year":2015.3,"mt":2.28},{"model":"GFDL","year":2016.5,"mt":2.48},{"model":"GFDL","year":2017.4,"mt":2.52},{"model":"GFDL","year":2018.3,"mt":2.41},{"model":"GFDL","year":2019.5,"mt":2.25},{"model":"GFDL","year":2020.4,"mt":2.2},{"model":"GFDL","year":2021.3,"mt":2.23},{"model":"GFDL","year":2022.5,"mt":2.34},{"model":"GFDL","year":2023.7,"mt":2.27},{"model":"GFDL","year":2024.9,"mt":2.38},{"model":"GFDL","year":2026.1,"mt":2.59},{"model":"GFDL","year":2027.3,"mt":2.62},{"model":"GFDL","year":2028.5,"mt":2.48},{"model":"GFDL","year":2029.7,"mt":2.45},{"model":"GFDL","year":2030.6,"mt":2.38},{"model":"GFDL","year":2031.5,"mt":2.66},{"model":"GFDL","year":2032.4,"mt":2.7},{"model":"GFDL","year":2033.6,"mt":2.52},{"model":"GFDL","year":2035.1,"mt":2.48},{"model":"GFDL","year":2036.5,"mt":2.55},{"model":"GFDL","year":2038.0,"mt":2.52},{"model":"GFDL","year":2039.5,"mt":2.45},{"model":"GFDL","year":2041.0,"mt":2.41},{"model":"GFDL","year":2042.5,"mt":2.38},{"model":"GFDL","year":2043.1,"mt":2.3},{"model":"GFDL","year":2044.0,"mt":2.41},{"model":"GFDL","year":2045.5,"mt":2.41},{"model":"GFDL","year":2046.4,"mt":2.62},{"model":"GFDL","year":2047.6,"mt":2.8},{"model":"GFDL","year":2048.8,"mt":2.84},{"model":"GFDL","year":2050.0,"mt":2.87},{"model":"GFDL","year":2050.9,"mt":2.8},{"model":"GFDL","year":2051.8,"mt":2.66},{"model":"GFDL","year":2052.7,"mt":2.66},{"model":"GFDL","year":2054.1,"mt":2.7},
      {"model":"IPSL","year":2011.0,"mt":1.82},{"model":"IPSL","year":2011.8,"mt":1.93},{"model":"IPSL","year":2012.7,"mt":1.98},{"model":"IPSL","year":2013.3,"mt":1.96},{"model":"IPSL","year":2014.1,"mt":2.23},{"model":"IPSL","year":2015.3,"mt":2.3},{"model":"IPSL","year":2016.5,"mt":2.48},{"model":"IPSL","year":2017.4,"mt":2.53},{"model":"IPSL","year":2018.3,"mt":2.45},{"model":"IPSL","year":2019.5,"mt":2.3},{"model":"IPSL","year":2020.4,"mt":2.23},{"model":"IPSL","year":2021.3,"mt":2.3},{"model":"IPSL","year":2022.5,"mt":2.41},{"model":"IPSL","year":2023.7,"mt":2.34},{"model":"IPSL","year":2024.9,"mt":2.45},{"model":"IPSL","year":2026.1,"mt":2.66},{"model":"IPSL","year":2027.3,"mt":2.73},{"model":"IPSL","year":2028.5,"mt":2.59},{"model":"IPSL","year":2029.7,"mt":2.53},{"model":"IPSL","year":2030.6,"mt":2.52},{"model":"IPSL","year":2031.5,"mt":2.77},{"model":"IPSL","year":2032.4,"mt":2.84},{"model":"IPSL","year":2033.6,"mt":2.66},{"model":"IPSL","year":2035.1,"mt":2.7},{"model":"IPSL","year":2036.5,"mt":2.77},{"model":"IPSL","year":2038.0,"mt":2.73},{"model":"IPSL","year":2039.5,"mt":2.7},{"model":"IPSL","year":2041.0,"mt":2.66},{"model":"IPSL","year":2042.5,"mt":2.62},{"model":"IPSL","year":2043.1,"mt":2.59},{"model":"IPSL","year":2044.0,"mt":2.7},{"model":"IPSL","year":2045.5,"mt":2.73},{"model":"IPSL","year":2046.4,"mt":2.95},{"model":"IPSL","year":2047.6,"mt":3.05},{"model":"IPSL","year":2048.8,"mt":3.12},{"model":"IPSL","year":2050.0,"mt":3.2},{"model":"IPSL","year":2050.9,"mt":3.05},{"model":"IPSL","year":2051.8,"mt":2.98},{"model":"IPSL","year":2052.7,"mt":2.98},{"model":"IPSL","year":2054.1,"mt":3.09},
      {"model":"MIROC","year":2011.0,"mt":1.82},{"model":"MIROC","year":2011.8,"mt":1.93},{"model":"MIROC","year":2012.7,"mt":2.02},{"model":"MIROC","year":2013.3,"mt":2.09},{"model":"MIROC","year":2014.1,"mt":2.59},{"model":"MIROC","year":2015.3,"mt":2.98},{"model":"MIROC","year":2016.5,"mt":3.27},{"model":"MIROC","year":2017.4,"mt":3.3},{"model":"MIROC","year":2018.3,"mt":3.2},{"model":"MIROC","year":2019.5,"mt":3.09},{"model":"MIROC","year":2020.4,"mt":3.09},{"model":"MIROC","year":2021.3,"mt":3.16},{"model":"MIROC","year":2022.5,"mt":3.27},{"model":"MIROC","year":2023.7,"mt":3.2},{"model":"MIROC","year":2024.9,"mt":3.37},{"model":"MIROC","year":2026.1,"mt":3.55},{"model":"MIROC","year":2027.3,"mt":3.59},{"model":"MIROC","year":2028.5,"mt":3.45},{"model":"MIROC","year":2029.7,"mt":3.37},{"model":"MIROC","year":2030.6,"mt":3.34},{"model":"MIROC","year":2031.5,"mt":3.69},{"model":"MIROC","year":2032.4,"mt":3.73},{"model":"MIROC","year":2033.6,"mt":3.59},{"model":"MIROC","year":2035.1,"mt":3.69},{"model":"MIROC","year":2036.5,"mt":3.8},{"model":"MIROC","year":2038.0,"mt":3.69},{"model":"MIROC","year":2039.5,"mt":3.59},{"model":"MIROC","year":2041.0,"mt":3.52},{"model":"MIROC","year":2042.5,"mt":3.55},{"model":"MIROC","year":2043.1,"mt":3.52},{"model":"MIROC","year":2044.0,"mt":3.69},{"model":"MIROC","year":2045.5,"mt":3.69},{"model":"MIROC","year":2046.4,"mt":3.91},{"model":"MIROC","year":2047.6,"mt":3.94},{"model":"MIROC","year":2048.8,"mt":3.91},{"model":"MIROC","year":2050.0,"mt":3.8},{"model":"MIROC","year":2050.9,"mt":3.73},{"model":"MIROC","year":2051.8,"mt":3.59},{"model":"MIROC","year":2052.7,"mt":3.59},{"model":"MIROC","year":2054.1,"mt":3.69},
      {"model":"MPI","year":2011.0,"mt":1.82},{"model":"MPI","year":2011.8,"mt":1.93},{"model":"MPI","year":2012.7,"mt":2.02},{"model":"MPI","year":2013.3,"mt":2.09},{"model":"MPI","year":2014.1,"mt":2.66},{"model":"MPI","year":2015.3,"mt":2.95},{"model":"MPI","year":2016.5,"mt":3.2},{"model":"MPI","year":2017.4,"mt":3.27},{"model":"MPI","year":2018.3,"mt":3.16},{"model":"MPI","year":2019.5,"mt":3.02},{"model":"MPI","year":2020.4,"mt":2.95},{"model":"MPI","year":2021.3,"mt":3.02},{"model":"MPI","year":2022.5,"mt":3.12},{"model":"MPI","year":2023.7,"mt":2.98},{"model":"MPI","year":2024.9,"mt":3.16},{"model":"MPI","year":2026.1,"mt":3.3},{"model":"MPI","year":2027.3,"mt":3.34},{"model":"MPI","year":2028.5,"mt":3.16},{"model":"MPI","year":2029.7,"mt":3.05},{"model":"MPI","year":2030.6,"mt":2.98},{"model":"MPI","year":2031.5,"mt":3.3},{"model":"MPI","year":2032.4,"mt":3.37},{"model":"MPI","year":2033.6,"mt":3.12},{"model":"MPI","year":2035.1,"mt":3.05},{"model":"MPI","year":2036.5,"mt":3.12},{"model":"MPI","year":2038.0,"mt":3.09},{"model":"MPI","year":2039.5,"mt":3.02},{"model":"MPI","year":2041.0,"mt":2.95},{"model":"MPI","year":2042.5,"mt":2.84},{"model":"MPI","year":2043.1,"mt":2.8},{"model":"MPI","year":2044.0,"mt":2.95},{"model":"MPI","year":2045.5,"mt":2.91},{"model":"MPI","year":2046.4,"mt":3.2},{"model":"MPI","year":2047.6,"mt":3.3},{"model":"MPI","year":2048.8,"mt":3.37},{"model":"MPI","year":2050.0,"mt":3.41},{"model":"MPI","year":2050.9,"mt":3.34},{"model":"MPI","year":2051.8,"mt":3.23},{"model":"MPI","year":2052.7,"mt":3.2},{"model":"MPI","year":2054.1,"mt":3.2}
    ],
    "wcpo_bet": [
      {"model":"Historical","year":1986.0,"mt":2.116},{"model":"Historical","year":1986.7,"mt":2.107},{"model":"Historical","year":1987.7,"mt":2.168},{"model":"Historical","year":1988.8,"mt":2.189},{"model":"Historical","year":1990.0,"mt":2.168},{"model":"Historical","year":1991.2,"mt":2.177},{"model":"Historical","year":1992.4,"mt":2.229},{"model":"Historical","year":1993.6,"mt":2.25},{"model":"Historical","year":1994.7,"mt":2.244},{"model":"Historical","year":1995.9,"mt":2.198},{"model":"Historical","year":1996.8,"mt":2.162},{"model":"Historical","year":1998.3,"mt":2.183},{"model":"Historical","year":1999.5,"mt":2.198},{"model":"Historical","year":2000.7,"mt":2.168},{"model":"Historical","year":2001.9,"mt":2.159},{"model":"Historical","year":2003.1,"mt":2.183},{"model":"Historical","year":2004.3,"mt":2.229},{"model":"Historical","year":2005.5,"mt":2.22},{"model":"Historical","year":2007.0,"mt":2.198},{"model":"Historical","year":2008.2,"mt":2.183},{"model":"Historical","year":2009.4,"mt":2.189},{"model":"Historical","year":2010.6,"mt":2.198},{"model":"Historical","year":2011.5,"mt":2.22},
      {"model":"GFDL","year":2011.5,"mt":2.22},{"model":"GFDL","year":2012.7,"mt":2.24},{"model":"GFDL","year":2013.9,"mt":2.238},{"model":"GFDL","year":2015.0,"mt":2.229},{"model":"GFDL","year":2016.2,"mt":2.216},{"model":"GFDL","year":2017.1,"mt":2.207},{"model":"GFDL","year":2018.3,"mt":2.146},{"model":"GFDL","year":2019.8,"mt":2.128},{"model":"GFDL","year":2021.0,"mt":2.137},{"model":"GFDL","year":2022.2,"mt":2.098},{"model":"GFDL","year":2023.1,"mt":2.073},{"model":"GFDL","year":2024.6,"mt":2.122},{"model":"GFDL","year":2025.8,"mt":2.137},{"model":"GFDL","year":2027.0,"mt":2.107},{"model":"GFDL","year":2028.5,"mt":2.046},{"model":"GFDL","year":2029.4,"mt":2.03},{"model":"GFDL","year":2030.9,"mt":2.037},{"model":"GFDL","year":2032.1,"mt":2.046},{"model":"GFDL","year":2033.3,"mt":2.015},{"model":"GFDL","year":2034.4,"mt":2.046},{"model":"GFDL","year":2035.6,"mt":2.091},{"model":"GFDL","year":2036.8,"mt":2.098},{"model":"GFDL","year":2038.0,"mt":2.085},{"model":"GFDL","year":2039.2,"mt":2.061},{"model":"GFDL","year":2040.7,"mt":2.037},{"model":"GFDL","year":2041.9,"mt":2.061},{"model":"GFDL","year":2043.4,"mt":2.091},{"model":"GFDL","year":2044.6,"mt":2.116},{"model":"GFDL","year":2045.8,"mt":2.137},{"model":"GFDL","year":2046.7,"mt":2.168},{"model":"GFDL","year":2047.9,"mt":2.137},{"model":"GFDL","year":2049.1,"mt":2.116},{"model":"GFDL","year":2050.0,"mt":2.122},{"model":"GFDL","year":2051.5,"mt":2.046},{"model":"GFDL","year":2052.7,"mt":2.076},{"model":"GFDL","year":2053.9,"mt":2.061},
      {"model":"IPSL","year":2011.5,"mt":2.22},{"model":"IPSL","year":2012.7,"mt":2.24},{"model":"IPSL","year":2013.9,"mt":2.238},{"model":"IPSL","year":2015.0,"mt":2.229},{"model":"IPSL","year":2016.2,"mt":2.22},{"model":"IPSL","year":2017.1,"mt":2.213},{"model":"IPSL","year":2018.3,"mt":2.152},{"model":"IPSL","year":2019.8,"mt":2.137},{"model":"IPSL","year":2021.0,"mt":2.152},{"model":"IPSL","year":2022.2,"mt":2.107},{"model":"IPSL","year":2023.1,"mt":2.085},{"model":"IPSL","year":2024.6,"mt":2.137},{"model":"IPSL","year":2025.8,"mt":2.146},{"model":"IPSL","year":2027.0,"mt":2.128},{"model":"IPSL","year":2028.5,"mt":2.067},{"model":"IPSL","year":2029.4,"mt":2.046},{"model":"IPSL","year":2030.9,"mt":2.061},{"model":"IPSL","year":2032.1,"mt":2.076},{"model":"IPSL","year":2033.3,"mt":2.055},{"model":"IPSL","year":2034.4,"mt":2.098},{"model":"IPSL","year":2035.6,"mt":2.159},{"model":"IPSL","year":2036.8,"mt":2.168},{"model":"IPSL","year":2038.0,"mt":2.137},{"model":"IPSL","year":2039.2,"mt":2.116},{"model":"IPSL","year":2040.7,"mt":2.107},{"model":"IPSL","year":2041.9,"mt":2.122},{"model":"IPSL","year":2043.4,"mt":2.152},{"model":"IPSL","year":2044.6,"mt":2.168},{"model":"IPSL","year":2045.8,"mt":2.183},{"model":"IPSL","year":2046.7,"mt":2.238},{"model":"IPSL","year":2047.9,"mt":2.198},{"model":"IPSL","year":2049.1,"mt":2.168},{"model":"IPSL","year":2050.0,"mt":2.159},{"model":"IPSL","year":2051.5,"mt":2.076},{"model":"IPSL","year":2052.7,"mt":2.098},{"model":"IPSL","year":2053.9,"mt":2.085},
      {"model":"MIROC","year":2011.5,"mt":2.22},{"model":"MIROC","year":2012.7,"mt":2.24},{"model":"MIROC","year":2013.9,"mt":2.244},{"model":"MIROC","year":2015.0,"mt":2.244},{"model":"MIROC","year":2016.2,"mt":2.26},{"model":"MIROC","year":2017.1,"mt":2.28},{"model":"MIROC","year":2018.3,"mt":2.244},{"model":"MIROC","year":2019.8,"mt":2.244},{"model":"MIROC","year":2021.0,"mt":2.268},{"model":"MIROC","year":2022.2,"mt":2.229},{"model":"MIROC","year":2023.1,"mt":2.213},{"model":"MIROC","year":2024.6,"mt":2.29},{"model":"MIROC","year":2025.8,"mt":2.32},{"model":"MIROC","year":2027.0,"mt":2.29},{"model":"MIROC","year":2028.5,"mt":2.244},{"model":"MIROC","year":2029.4,"mt":2.213},{"model":"MIROC","year":2030.9,"mt":2.229},{"model":"MIROC","year":2032.1,"mt":2.244},{"model":"MIROC","year":2033.3,"mt":2.207},{"model":"MIROC","year":2034.4,"mt":2.244},{"model":"MIROC","year":2035.6,"mt":2.29},{"model":"MIROC","year":2036.8,"mt":2.29},{"model":"MIROC","year":2038.0,"mt":2.26},{"model":"MIROC","year":2039.2,"mt":2.229},{"model":"MIROC","year":2040.7,"mt":2.207},{"model":"MIROC","year":2041.9,"mt":2.213},{"model":"MIROC","year":2043.4,"mt":2.22},{"model":"MIROC","year":2044.6,"mt":2.229},{"model":"MIROC","year":2045.8,"mt":2.244},{"model":"MIROC","year":2046.7,"mt":2.305},{"model":"MIROC","year":2047.9,"mt":2.26},{"model":"MIROC","year":2049.1,"mt":2.244},{"model":"MIROC","year":2050.0,"mt":2.238},{"model":"MIROC","year":2051.5,"mt":2.152},{"model":"MIROC","year":2052.7,"mt":2.168},{"model":"MIROC","year":2053.9,"mt":2.146},
      {"model":"MPI","year":2011.5,"mt":2.22},{"model":"MPI","year":2012.7,"mt":2.24},{"model":"MPI","year":2013.9,"mt":2.244},{"model":"MPI","year":2015.0,"mt":2.25},{"model":"MPI","year":2016.2,"mt":2.26},{"model":"MPI","year":2017.1,"mt":2.29},{"model":"MPI","year":2018.3,"mt":2.229},{"model":"MPI","year":2019.8,"mt":2.229},{"model":"MPI","year":2021.0,"mt":2.26},{"model":"MPI","year":2022.2,"mt":2.229},{"model":"MPI","year":2023.1,"mt":2.213},{"model":"MPI","year":2024.6,"mt":2.26},{"model":"MPI","year":2025.8,"mt":2.28},{"model":"MPI","year":2027.0,"mt":2.268},{"model":"MPI","year":2028.5,"mt":2.198},{"model":"MPI","year":2029.4,"mt":2.168},{"model":"MPI","year":2030.9,"mt":2.183},{"model":"MPI","year":2032.1,"mt":2.198},{"model":"MPI","year":2033.3,"mt":2.168},{"model":"MPI","year":2034.4,"mt":2.198},{"model":"MPI","year":2035.6,"mt":2.26},{"model":"MPI","year":2036.8,"mt":2.25},{"model":"MPI","year":2038.0,"mt":2.238},{"model":"MPI","year":2039.2,"mt":2.207},{"model":"MPI","year":2040.7,"mt":2.189},{"model":"MPI","year":2041.9,"mt":2.198},{"model":"MPI","year":2043.4,"mt":2.213},{"model":"MPI","year":2044.6,"mt":2.229},{"model":"MPI","year":2045.8,"mt":2.238},{"model":"MPI","year":2046.7,"mt":2.28},{"model":"MPI","year":2047.9,"mt":2.25},{"model":"MPI","year":2049.1,"mt":2.238},{"model":"MPI","year":2050.0,"mt":2.229},{"model":"MPI","year":2051.5,"mt":2.152},{"model":"MPI","year":2052.7,"mt":2.177},{"model":"MPI","year":2053.9,"mt":2.168}
    ],
    "epo_bet": [
      {"model":"Historical","year":1986.0,"mt":1.476},{"model":"Historical","year":1986.8,"mt":1.518},{"model":"Historical","year":1987.9,"mt":1.518},{"model":"Historical","year":1989.1,"mt":1.497},{"model":"Historical","year":1990.3,"mt":1.543},{"model":"Historical","year":1991.5,"mt":1.573},{"model":"Historical","year":1992.7,"mt":1.527},{"model":"Historical","year":1993.9,"mt":1.518},{"model":"Historical","year":1995.0,"mt":1.543},{"model":"Historical","year":1996.2,"mt":1.573},{"model":"Historical","year":1997.4,"mt":1.573},{"model":"Historical","year":1998.6,"mt":1.558},{"model":"Historical","year":1999.8,"mt":1.558},{"model":"Historical","year":2000.7,"mt":1.588},{"model":"Historical","year":2001.6,"mt":1.64},{"model":"Historical","year":2002.5,"mt":1.619},{"model":"Historical","year":2003.7,"mt":1.588},{"model":"Historical","year":2004.9,"mt":1.579},{"model":"Historical","year":2006.1,"mt":1.579},{"model":"Historical","year":2007.3,"mt":1.573},{"model":"Historical","year":2008.5,"mt":1.579},{"model":"Historical","year":2009.7,"mt":1.573},{"model":"Historical","year":2010.9,"mt":1.558},
      {"model":"GFDL","year":2010.9,"mt":1.558},{"model":"GFDL","year":2011.8,"mt":1.543},{"model":"GFDL","year":2013.0,"mt":1.537},{"model":"GFDL","year":2013.9,"mt":1.527},{"model":"GFDL","year":2014.4,"mt":1.515},{"model":"GFDL","year":2015.6,"mt":1.543},{"model":"GFDL","year":2016.8,"mt":1.537},{"model":"GFDL","year":2018.0,"mt":1.579},{"model":"GFDL","year":2018.9,"mt":1.573},{"model":"GFDL","year":2020.1,"mt":1.537},{"model":"GFDL","year":2021.0,"mt":1.527},{"model":"GFDL","year":2022.2,"mt":1.558},{"model":"GFDL","year":2023.4,"mt":1.573},{"model":"GFDL","year":2024.9,"mt":1.527},{"model":"GFDL","year":2025.8,"mt":1.518},{"model":"GFDL","year":2027.3,"mt":1.543},{"model":"GFDL","year":2028.5,"mt":1.567},{"model":"GFDL","year":2030.0,"mt":1.579},{"model":"GFDL","year":2031.2,"mt":1.558},{"model":"GFDL","year":2032.1,"mt":1.573},{"model":"GFDL","year":2033.3,"mt":1.64},{"model":"GFDL","year":2034.4,"mt":1.61},{"model":"GFDL","year":2035.6,"mt":1.604},{"model":"GFDL","year":2036.8,"mt":1.619},{"model":"GFDL","year":2038.3,"mt":1.619},{"model":"GFDL","year":2039.8,"mt":1.61},{"model":"GFDL","year":2041.3,"mt":1.619},{"model":"GFDL","year":2042.8,"mt":1.619},{"model":"GFDL","year":2043.7,"mt":1.604},{"model":"GFDL","year":2045.2,"mt":1.64},{"model":"GFDL","year":2046.7,"mt":1.598},{"model":"GFDL","year":2048.2,"mt":1.64},{"model":"GFDL","year":2049.4,"mt":1.634},{"model":"GFDL","year":2050.6,"mt":1.619},{"model":"GFDL","year":2051.8,"mt":1.65},{"model":"GFDL","year":2053.0,"mt":1.619},{"model":"GFDL","year":2054.1,"mt":1.604},
      {"model":"IPSL","year":2010.9,"mt":1.558},{"model":"IPSL","year":2011.8,"mt":1.543},{"model":"IPSL","year":2013.0,"mt":1.537},{"model":"IPSL","year":2013.9,"mt":1.527},{"model":"IPSL","year":2014.4,"mt":1.512},{"model":"IPSL","year":2015.6,"mt":1.549},{"model":"IPSL","year":2016.8,"mt":1.543},{"model":"IPSL","year":2018.0,"mt":1.588},{"model":"IPSL","year":2018.9,"mt":1.579},{"model":"IPSL","year":2020.1,"mt":1.549},{"model":"IPSL","year":2021.0,"mt":1.543},{"model":"IPSL","year":2022.2,"mt":1.573},{"model":"IPSL","year":2023.4,"mt":1.588},{"model":"IPSL","year":2024.9,"mt":1.543},{"model":"IPSL","year":2025.8,"mt":1.537},{"model":"IPSL","year":2027.3,"mt":1.558},{"model":"IPSL","year":2028.5,"mt":1.579},{"model":"IPSL","year":2030.0,"mt":1.598},{"model":"IPSL","year":2031.2,"mt":1.573},{"model":"IPSL","year":2032.1,"mt":1.598},{"model":"IPSL","year":2033.3,"mt":1.665},{"model":"IPSL","year":2034.4,"mt":1.64},{"model":"IPSL","year":2035.6,"mt":1.65},{"model":"IPSL","year":2036.8,"mt":1.659},{"model":"IPSL","year":2038.3,"mt":1.659},{"model":"IPSL","year":2039.8,"mt":1.659},{"model":"IPSL","year":2041.3,"mt":1.671},{"model":"IPSL","year":2042.8,"mt":1.68},{"model":"IPSL","year":2043.7,"mt":1.671},{"model":"IPSL","year":2045.2,"mt":1.72},{"model":"IPSL","year":2046.7,"mt":1.68},{"model":"IPSL","year":2048.2,"mt":1.72},{"model":"IPSL","year":2049.4,"mt":1.71},{"model":"IPSL","year":2050.6,"mt":1.695},{"model":"IPSL","year":2051.8,"mt":1.72},{"model":"IPSL","year":2053.0,"mt":1.695},{"model":"IPSL","year":2054.1,"mt":1.68},
      {"model":"MIROC","year":2010.9,"mt":1.558},{"model":"MIROC","year":2011.8,"mt":1.543},{"model":"MIROC","year":2013.0,"mt":1.549},{"model":"MIROC","year":2013.9,"mt":1.543},{"model":"MIROC","year":2014.4,"mt":1.549},{"model":"MIROC","year":2015.6,"mt":1.62},{"model":"MIROC","year":2016.8,"mt":1.64},{"model":"MIROC","year":2018.0,"mt":1.756},{"model":"MIROC","year":2018.9,"mt":1.762},{"model":"MIROC","year":2020.1,"mt":1.741},{"model":"MIROC","year":2021.0,"mt":1.741},{"model":"MIROC","year":2022.2,"mt":1.802},{"model":"MIROC","year":2023.4,"mt":1.823},{"model":"MIROC","year":2024.9,"mt":1.78},{"model":"MIROC","year":2025.8,"mt":1.765},{"model":"MIROC","year":2027.3,"mt":1.802},{"model":"MIROC","year":2028.5,"mt":1.823},{"model":"MIROC","year":2030.0,"mt":1.848},{"model":"MIROC","year":2031.2,"mt":1.823},{"model":"MIROC","year":2032.1,"mt":1.863},{"model":"MIROC","year":2033.3,"mt":1.93},{"model":"MIROC","year":2034.4,"mt":1.915},{"model":"MIROC","year":2035.6,"mt":1.915},{"model":"MIROC","year":2036.8,"mt":1.924},{"model":"MIROC","year":2038.3,"mt":1.915},{"model":"MIROC","year":2039.8,"mt":1.915},{"model":"MIROC","year":2041.3,"mt":1.939},{"model":"MIROC","year":2042.8,"mt":1.933},{"model":"MIROC","year":2043.7,"mt":1.939},{"model":"MIROC","year":2045.2,"mt":1.97},{"model":"MIROC","year":2046.7,"mt":1.924},{"model":"MIROC","year":2048.2,"mt":1.945},{"model":"MIROC","year":2049.4,"mt":1.924},{"model":"MIROC","year":2050.6,"mt":1.893},{"model":"MIROC","year":2051.8,"mt":1.909},{"model":"MIROC","year":2053.0,"mt":1.884},{"model":"MIROC","year":2054.1,"mt":1.854},
      {"model":"MPI","year":2010.9,"mt":1.558},{"model":"MPI","year":2011.8,"mt":1.543},{"model":"MPI","year":2013.0,"mt":1.549},{"model":"MPI","year":2013.9,"mt":1.543},{"model":"MPI","year":2014.4,"mt":1.549},{"model":"MPI","year":2015.6,"mt":1.62},{"model":"MPI","year":2016.8,"mt":1.64},{"model":"MPI","year":2018.0,"mt":1.741},{"model":"MPI","year":2018.9,"mt":1.756},{"model":"MPI","year":2020.1,"mt":1.726},{"model":"MPI","year":2021.0,"mt":1.72},{"model":"MPI","year":2022.2,"mt":1.771},{"model":"MPI","year":2023.4,"mt":1.787},{"model":"MPI","year":2024.9,"mt":1.726},{"model":"MPI","year":2025.8,"mt":1.71},{"model":"MPI","year":2027.3,"mt":1.741},{"model":"MPI","year":2028.5,"mt":1.762},{"model":"MPI","year":2030.0,"mt":1.771},{"model":"MPI","year":2031.2,"mt":1.741},{"model":"MPI","year":2032.1,"mt":1.756},{"model":"MPI","year":2033.3,"mt":1.841},{"model":"MPI","year":2034.4,"mt":1.811},{"model":"MPI","year":2035.6,"mt":1.802},{"model":"MPI","year":2036.8,"mt":1.811},{"model":"MPI","year":2038.3,"mt":1.802},{"model":"MPI","year":2039.8,"mt":1.793},{"model":"MPI","year":2041.3,"mt":1.802},{"model":"MPI","year":2042.8,"mt":1.811},{"model":"MPI","year":2043.7,"mt":1.793},{"model":"MPI","year":2045.2,"mt":1.823},{"model":"MPI","year":2046.7,"mt":1.771},{"model":"MPI","year":2048.2,"mt":1.793},{"model":"MPI","year":2049.4,"mt":1.787},{"model":"MPI","year":2050.6,"mt":1.756},{"model":"MPI","year":2051.8,"mt":1.802},{"model":"MPI","year":2053.0,"mt":1.787},{"model":"MPI","year":2054.1,"mt":1.756}
    ]
  },
  "resolve": {"scale": {"color": "independent"}, "legend": {"color": "independent"}},
  "spacing": 25,
  "vconcat": [
    {
      "hconcat": [
        {"width": 496, "height": 40, "data": {"values": [{"region": "WCPO"}]}, "mark": {"type": "text", "font": "Lato", "fontSize": 26, "fontWeight": "bold", "color": "black", "align": "center"}, "encoding": {"text": {"field": "region"}}},
        {"width": 436, "height": 40, "data": {"values": [{"region": "EPO"}]}, "mark": {"type": "text", "font": "Lato", "fontSize": 26, "fontWeight": "bold", "color": "black", "align": "center"}, "encoding": {"text": {"field": "region"}}}
      ],
      "spacing": 158
    },
    {
      "spacing": 5,
      "resolve": {"scale": {"color": "independent"}, "legend": {"color": "independent"}},
      "vconcat": [
        {
          "title": "Skipjack",
          "spacing": 37,
          "resolve": {"scale": {"color": "independent"}, "legend": {"color": "independent"}},
          "hconcat": [
            {
              "width": 522, "height": 266,
              "data": {"name": "wcpo_skj"},
              "layer": [
                {"transform": [{"filter": "datum.model == 'Historical'"}], "mark": {"type": "line", "color": "black"},
                 "encoding": {"x": {"field": "year", "type": "quantitative", "scale": {"domain": [1983.1, 2061.9], "nice": false, "zero": false}, "axis": {"values": [1990, 2000, 2010, 2020, 2030, 2040, 2050, 2060], "format": "d", "labelExpr": "datum.value % 20 == 0 ? datum.label : ''", "title": null}},
                              "y": {"field": "mt", "type": "quantitative", "scale": {"domain": [-0.24, 6.35], "nice": false, "zero": false}, "axis": {"values": [0, 1, 2, 3, 4, 5, 6], "format": "d", "title": "10⁶mt"}}}},
                {"transform": [{"filter": "datum.model != 'Historical'"}], "mark": {"type": "line"},
                 "encoding": {"x": {"field": "year", "type": "quantitative"}, "y": {"field": "mt", "type": "quantitative"},
                              "color": {"field": "model", "type": "nominal", "scale": {"domain": ["GFDL", "IPSL", "MIROC", "MPI"], "range": ["#377eb8", "#ff7f00", "#e41a1c", "#4daf4a"]}, "legend": null}}},
                {"data": {"values": [{"label": "HISTORICAL"}]}, "mark": {"type": "text", "color": "black"}, "encoding": {"text": {"field": "label"}, "x": {"datum": 1985.5}, "y": {"datum": 0.28}}},
                {"data": {"values": [{"label": "FORECAST"}]}, "mark": {"type": "text", "color": "#595959"}, "encoding": {"text": {"field": "label"}, "x": {"datum": 2012}, "y": {"datum": 0.28}}}
              ]
            },
            {
              "width": 522, "height": 266,
              "data": {"name": "epo_skj"},
              "layer": [
                {"transform": [{"filter": "datum.model == 'Historical'"}], "mark": {"type": "line", "color": "black"},
                 "encoding": {"x": {"field": "year", "type": "quantitative", "scale": {"domain": [1983.1, 2061.9], "nice": false, "zero": false}, "axis": {"values": [1990, 2000, 2010, 2020, 2030, 2040, 2050, 2060], "format": "d", "labelExpr": "datum.value % 20 == 0 ? datum.label : ''", "title": null}},
                              "y": {"field": "mt", "type": "quantitative", "scale": {"domain": [-0.24, 6.35], "nice": false, "zero": false}, "axis": {"values": [0, 1, 2, 3, 4, 5, 6], "format": "d", "title": "10⁶mt"}}}},
                {"transform": [{"filter": "datum.model != 'Historical'"}], "mark": {"type": "line"},
                 "encoding": {"x": {"field": "year", "type": "quantitative"}, "y": {"field": "mt", "type": "quantitative"},
                              "color": {"field": "model", "type": "nominal", "scale": {"domain": ["GFDL", "IPSL", "MIROC", "MPI"], "range": ["#377eb8", "#ff7f00", "#e41a1c", "#4daf4a"]},
                                        "legend": {"title": null, "orient": "none", "legendX": 14, "legendY": 3, "direction": "horizontal", "columns": 4, "gridAlign": "all", "padding": 0, "symbolType": "stroke", "symbolSize": 1156, "symbolStrokeWidth": 2.5, "labelFont": "Liberation Sans", "labelFontSize": 17, "labelColor": "black", "labelOffset": 14, "columnPadding": 11}}}},
                {"data": {"values": [{"label": "HISTORICAL"}]}, "mark": {"type": "text", "color": "black"}, "encoding": {"text": {"field": "label"}, "x": {"datum": 1985.5}, "y": {"datum": 0.28}}},
                {"data": {"values": [{"label": "FORECAST"}]}, "mark": {"type": "text", "color": "#595959"}, "encoding": {"text": {"field": "label"}, "x": {"datum": 2012}, "y": {"datum": 0.28}}}
              ]
            }
          ]
        },
        {
          "title": "Yellowfin",
          "spacing": 37,
          "resolve": {"scale": {"color": "independent"}, "legend": {"color": "independent"}},
          "hconcat": [
            {
              "width": 522, "height": 266,
              "data": {"name": "wcpo_yft"},
              "layer": [
                {"transform": [{"filter": "datum.model == 'Historical'"}], "mark": {"type": "line", "color": "black"},
                 "encoding": {"x": {"field": "year", "type": "quantitative", "scale": {"domain": [1983.1, 2061.9], "nice": false, "zero": false}, "axis": {"values": [1990, 2000, 2010, 2020, 2030, 2040, 2050, 2060], "format": "d", "labelExpr": "datum.value % 20 == 0 ? datum.label : ''", "title": null}},
                              "y": {"field": "mt", "type": "quantitative", "scale": {"domain": [-0.19, 5.48], "nice": false, "zero": false}, "axis": {"values": [0, 1, 2, 3, 4, 5], "format": "d", "title": "10⁶mt"}}}},
                {"transform": [{"filter": "datum.model != 'Historical'"}], "mark": {"type": "line"},
                 "encoding": {"x": {"field": "year", "type": "quantitative"}, "y": {"field": "mt", "type": "quantitative"},
                              "color": {"field": "model", "type": "nominal", "scale": {"domain": ["GFDL", "IPSL", "MIROC", "MPI"], "range": ["#377eb8", "#ff7f00", "#e41a1c", "#4daf4a"]}, "legend": null}}},
                {"data": {"values": [{"label": "HISTORICAL"}]}, "mark": {"type": "text", "color": "black"}, "encoding": {"text": {"field": "label"}, "x": {"datum": 1985.5}, "y": {"datum": 0.235}}},
                {"data": {"values": [{"label": "FORECAST"}]}, "mark": {"type": "text", "color": "#595959"}, "encoding": {"text": {"field": "label"}, "x": {"datum": 2012}, "y": {"datum": 0.235}}}
              ]
            },
            {
              "width": 522, "height": 266,
              "data": {"name": "epo_yft"},
              "layer": [
                {"transform": [{"filter": "datum.model == 'Historical'"}], "mark": {"type": "line", "color": "black"},
                 "encoding": {"x": {"field": "year", "type": "quantitative", "scale": {"domain": [1983.1, 2061.9], "nice": false, "zero": false}, "axis": {"values": [1990, 2000, 2010, 2020, 2030, 2040, 2050, 2060], "format": "d", "labelExpr": "datum.value % 20 == 0 ? datum.label : ''", "title": null}},
                              "y": {"field": "mt", "type": "quantitative", "scale": {"domain": [-0.19, 5.48], "nice": false, "zero": false}, "axis": {"values": [0, 1, 2, 3, 4, 5], "format": "d", "title": "10⁶mt"}}}},
                {"transform": [{"filter": "datum.model != 'Historical'"}], "mark": {"type": "line"},
                 "encoding": {"x": {"field": "year", "type": "quantitative"}, "y": {"field": "mt", "type": "quantitative"},
                              "color": {"field": "model", "type": "nominal", "scale": {"domain": ["GFDL", "IPSL", "MIROC", "MPI"], "range": ["#377eb8", "#ff7f00", "#e41a1c", "#4daf4a"]}, "legend": null}}},
                {"data": {"values": [{"label": "HISTORICAL"}]}, "mark": {"type": "text", "color": "black"}, "encoding": {"text": {"field": "label"}, "x": {"datum": 1985.5}, "y": {"datum": 0.235}}},
                {"data": {"values": [{"label": "FORECAST"}]}, "mark": {"type": "text", "color": "#595959"}, "encoding": {"text": {"field": "label"}, "x": {"datum": 2012}, "y": {"datum": 0.235}}}
              ]
            }
          ]
        },
        {
          "title": "Bigeye",
          "spacing": 37,
          "resolve": {"scale": {"color": "independent"}, "legend": {"color": "independent"}},
          "hconcat": [
            {
              "width": 522, "height": 266,
              "data": {"name": "wcpo_bet"},
              "layer": [
                {"transform": [{"filter": "datum.model == 'Historical'"}], "mark": {"type": "line", "color": "black"},
                 "encoding": {"x": {"field": "year", "type": "quantitative", "scale": {"domain": [1983.1, 2061.9], "nice": false, "zero": false}, "axis": {"values": [1990, 2000, 2010, 2020, 2030, 2040, 2050, 2060], "format": "d", "labelExpr": "datum.value % 20 == 0 ? datum.label : ''", "title": "Year"}},
                              "y": {"field": "mt", "type": "quantitative", "scale": {"domain": [-0.087, 2.33], "nice": false, "zero": false}, "axis": {"values": [0, 0.5, 1, 1.5, 2], "format": ".1f", "title": "10⁶mt"}}}},
                {"transform": [{"filter": "datum.model != 'Historical'"}], "mark": {"type": "line"},
                 "encoding": {"x": {"field": "year", "type": "quantitative"}, "y": {"field": "mt", "type": "quantitative"},
                              "color": {"field": "model", "type": "nominal", "scale": {"domain": ["GFDL", "IPSL", "MIROC", "MPI"], "range": ["#377eb8", "#ff7f00", "#e41a1c", "#4daf4a"]}, "legend": null}}},
                {"data": {"values": [{"label": "HISTORICAL"}]}, "mark": {"type": "text", "color": "black"}, "encoding": {"text": {"field": "label"}, "x": {"datum": 1985.5}, "y": {"datum": 0.103}}},
                {"data": {"values": [{"label": "FORECAST"}]}, "mark": {"type": "text", "color": "#595959"}, "encoding": {"text": {"field": "label"}, "x": {"datum": 2012}, "y": {"datum": 0.103}}}
              ]
            },
            {
              "width": 522, "height": 266,
              "data": {"name": "epo_bet"},
              "layer": [
                {"transform": [{"filter": "datum.model == 'Historical'"}], "mark": {"type": "line", "color": "black"},
                 "encoding": {"x": {"field": "year", "type": "quantitative", "scale": {"domain": [1983.1, 2061.9], "nice": false, "zero": false}, "axis": {"values": [1990, 2000, 2010, 2020, 2030, 2040, 2050, 2060], "format": "d", "labelExpr": "datum.value % 20 == 0 ? datum.label : ''", "title": "Year"}},
                              "y": {"field": "mt", "type": "quantitative", "scale": {"domain": [-0.087, 2.33], "nice": false, "zero": false}, "axis": {"values": [0, 0.5, 1, 1.5, 2], "format": ".1f", "title": "10⁶mt"}}}},
                {"transform": [{"filter": "datum.model != 'Historical'"}], "mark": {"type": "line"},
                 "encoding": {"x": {"field": "year", "type": "quantitative"}, "y": {"field": "mt", "type": "quantitative"},
                              "color": {"field": "model", "type": "nominal", "scale": {"domain": ["GFDL", "IPSL", "MIROC", "MPI"], "range": ["#377eb8", "#ff7f00", "#e41a1c", "#4daf4a"]}, "legend": null}}},
                {"data": {"values": [{"label": "HISTORICAL"}]}, "mark": {"type": "text", "color": "black"}, "encoding": {"text": {"field": "label"}, "x": {"datum": 1985.5}, "y": {"datum": 0.103}}},
                {"data": {"values": [{"label": "FORECAST"}]}, "mark": {"type": "text", "color": "#595959"}, "encoding": {"text": {"field": "label"}, "x": {"datum": 2012}, "y": {"datum": 0.103}}}
              ]
            }
          ]
        }
      ]
    }
  ]
}
